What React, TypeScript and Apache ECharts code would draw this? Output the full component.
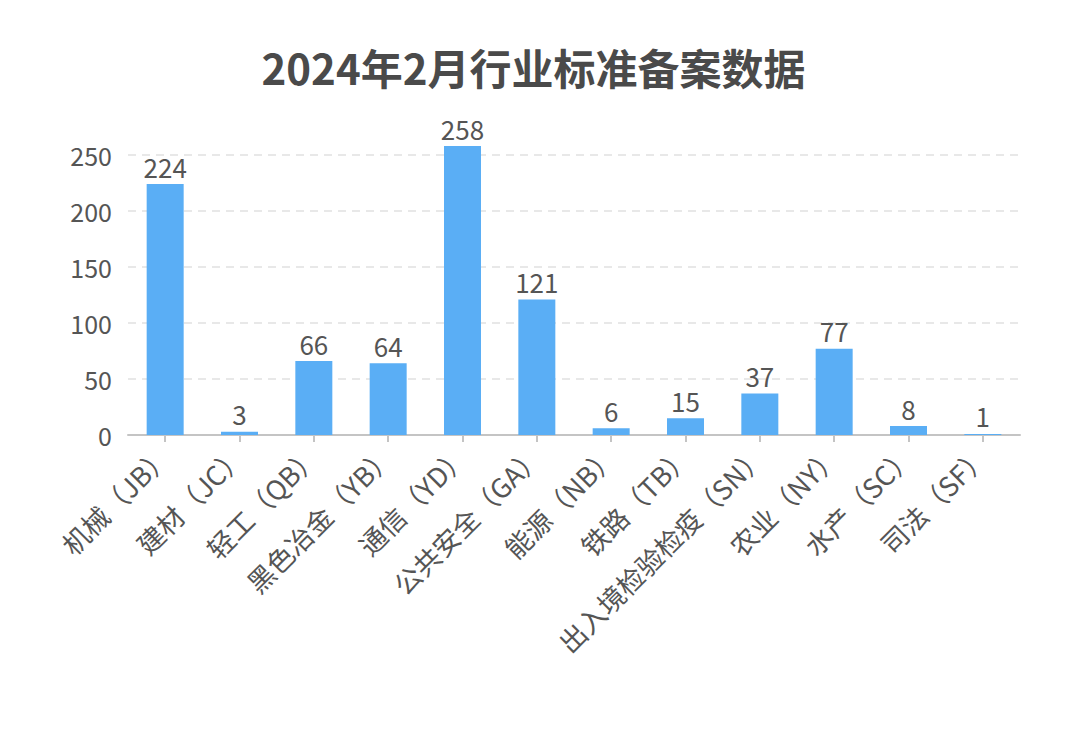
import React, { useEffect, useRef } from "react";
import * as echarts from "echarts";

const categories = [
  "机械（JB）",
  "建材（JC）",
  "轻工（QB）",
  "黑色冶金（YB）",
  "通信（YD）",
  "公共安全（GA）",
  "能源（NB）",
  "铁路（TB）",
  "出入境检验检疫（SN）",
  "农业（NY）",
  "水产（SC）",
  "司法（SF）",
];
const values = [224, 3, 66, 64, 258, 121, 6, 15, 37, 77, 8, 1];
const titleText = "2024年2月行业标准备案数据";

const FONT = "'Noto Sans CJK SC', 'Noto Sans', sans-serif";

export default function App() {
  const ref = useRef<HTMLDivElement>(null);
  useEffect(() => {
    document.body.style.margin = "0";
    const st = document.createElement("style");
    st.textContent = "svg text { text-spacing-trim: space-all; font-feature-settings: normal; }";
    document.head.appendChild(st);
    const chart = echarts.init(ref.current!, null, { renderer: "svg" });
    chart.setOption({
      animation: false,
      backgroundColor: "#ffffff",
      title: {
        text: titleText,
        left: "center",
        top: 40,
        textStyle: { fontSize: 42, fontWeight: "bold", color: "#4a4a4a", fontFamily: FONT },
      },
      grid: { left: 128, right: 47, top: 146, bottom: 300, containLabel: false },
      xAxis: {
        type: "category",
        data: categories,
        axisLine: { lineStyle: { color: "#c4c4c4", width: 2 } },
        axisTick: { show: true, alignWithLabel: true, length: 7, lineStyle: { color: "#c4c4c4", width: 2 } },
        axisLabel: {
          interval: 0,
          rotate: 45,
          fontSize: 27,
          color: "#555",
          fontFamily: FONT,
          margin: 15,
        },
      },
      yAxis: {
        type: "value",
        min: 0,
        max: 258,
        interval: 50,
        axisLine: { show: false },
        axisTick: { show: false },
        axisLabel: { fontSize: 25, color: "#555", fontFamily: FONT, margin: 16, showMaxLabel: false },
        splitLine: { show: true, showMaxLine: false, lineStyle: { type: [8, 6], color: "#e8e8e8", width: 2 } },
      },
      series: [
        {
          type: "bar",
          data: values,
          barWidth: 37,
          itemStyle: { color: "#5aaef5" },
          label: {
            show: true,
            position: "top",
            fontSize: 26,
            color: "#555",
            fontFamily: FONT,
            distance: 5,
          },
        },
      ],
    });
    return () => {
      chart.dispose();
      st.remove();
    };
  }, []);
  return <div ref={ref} style={{ width: 1067, height: 735 }} />;
}
